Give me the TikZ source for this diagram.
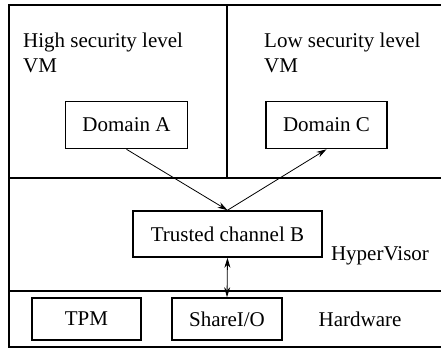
\documentclass[tikz,border=0pt]{standalone}
\usepackage{fontspec}
\setmainfont{Liberation Serif}
\usetikzlibrary{arrows.meta, positioning}

\begin{document}
\begin{tikzpicture}[
    x=1pt, y=-1pt,
    region/.style={line width=1.6pt},
    unitbox/.style={rectangle, draw, line width=1.6pt, minimum height=47pt, font=\fontsize{21}{25}\selectfont, inner sep=0pt},
    lbl/.style={font=\fontsize{21}{25}\selectfont, inner sep=0pt},
    link/.style={line width=0.8pt, -{Stealth[length=10pt, width=6pt]}}
]
\useasboundingbox (0,0) rectangle (441,348);

% --- Layers ---
\draw[region] (443,5) -- (9,5) -- (9,347) -- (443,347);
\draw[region] (9,178) -- (443,178);
\draw[region] (9,291) -- (443,291);
\draw[region] (227,5) -- (227,178);

% --- VM layer ---
\node[lbl, anchor=north west, align=left] (high) at (23,33) {High security level\\VM};
\node[lbl, anchor=north west, align=left] (low) at (264,33) {Low security level\\VM};
\node[unitbox, minimum width=122pt] (domA) at (126.5,125) {Domain A};
\node[unitbox, minimum width=121pt] (domC) at (326.5,125) {Domain C};

% --- HyperVisor layer ---
\node[unitbox, minimum width=189pt, minimum height=46pt] (chanB) at (227.5,234) {Trusted channel B};
\node[lbl] (hyper) at (380,256) {HyperVisor};

% --- Hardware layer ---
\node[unitbox, minimum width=109pt, minimum height=42pt] (tpm) at (86.5,319) {TPM};
\node[unitbox, minimum width=110pt, minimum height=42pt] (share) at (227,319) {ShareI/O};
\node[lbl] (hw) at (360,319) {Hardware};

\draw[link] (domA.south) -- (chanB.north);
\draw[link] (chanB.north) -- (domC.south);
\draw[link, {Stealth[length=10pt, width=6pt]}-{Stealth[length=10pt, width=6pt]}] (chanB.south) -- (share.north);
\end{tikzpicture}
\end{document}
